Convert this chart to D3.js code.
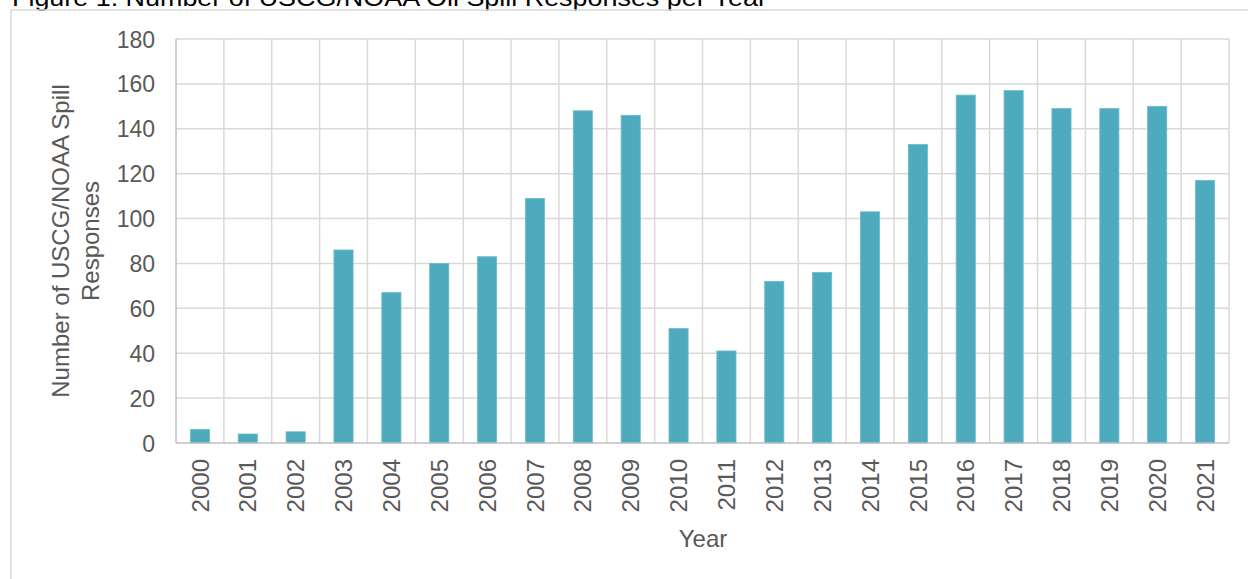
<!DOCTYPE html>
<html><head><meta charset="utf-8">
<script src="https://cdn.jsdelivr.net/npm/d3@7"></script>
<style>body{margin:0;background:#fff}svg{display:block}text{font-family:"Liberation Sans",Arial,sans-serif}</style>
</head><body>
<svg id="c" width="1248" height="579"></svg>
<script>
const years = ["2000","2001","2002","2003","2004","2005","2006","2007","2008","2009","2010","2011","2012","2013","2014","2015","2016","2017","2018","2019","2020","2021"];
const responses = [6,4,5,86,67,80,83,109,148,146,51,41,72,76,103,133,155,157,149,149,150,117];
const yTicks = [0,20,40,60,80,100,120,140,160,180];
const titleText = "Figure 1. Number of USCG/NOAA Oil Spill Responses per Year";
const yTitleLines = ["Number of USCG/NOAA Spill","Responses"];
const xTitle = "Year";

const svg = d3.select("#c");
const m = {left:176, right:1229, top:39, bottom:443};
const x = d3.scaleBand().domain(years).range([m.left, m.right]).paddingInner(0.6).paddingOuter(0.3);
const xg = d3.scaleBand().domain(years).range([m.left, m.right]);
const y = d3.scaleLinear().domain([0,180]).range([m.bottom, m.top]);
const grid = "#d9d9d9", txt = "#595959";

// title (cut at top, as in the reference)
svg.append("text").attr("x",12).attr("y",6).attr("font-size",24).attr("fill","#000")
  .attr("textLength",755).attr("lengthAdjust","spacingAndGlyphs").text(titleText);
// chart border
svg.append("rect").attr("x",11).attr("y",10).attr("width",1260).attr("height",600)
  .attr("fill","none").attr("stroke",grid).attr("stroke-width",1.5);

// horizontal gridlines
svg.append("g").selectAll("line").data(yTicks.filter(d=>d>0)).join("line")
  .attr("x1",m.left).attr("x2",m.right).attr("y1",d=>y(d)).attr("y2",d=>y(d))
  .attr("stroke",grid).attr("stroke-width",1.5);
// vertical gridlines at category boundaries
svg.append("g").selectAll("line").data(years.slice(1).concat(["end"])).join("line")
  .attr("x1",(d,i)=> i<years.length-1 ? xg(d) : m.right)
  .attr("x2",(d,i)=> i<years.length-1 ? xg(d) : m.right)
  .attr("y1",m.top).attr("y2",m.bottom).attr("stroke",grid).attr("stroke-width",1.5);

// bars
svg.append("g").selectAll("rect").data(years).join("rect")
  .attr("x",d=>x(d)).attr("width",x.bandwidth())
  .attr("y",(d,i)=>y(responses[i])).attr("height",(d,i)=>y(0)-y(responses[i]))
  .attr("fill","#4eabbd").attr("stroke","#6bbccb").attr("stroke-width",0.8);

// axes lines
svg.append("line").attr("x1",m.left).attr("x2",m.left).attr("y1",m.top).attr("y2",m.bottom)
  .attr("stroke","#bfbfbf").attr("stroke-width",1.5);
svg.append("line").attr("x1",m.left).attr("x2",m.right).attr("y1",m.bottom).attr("y2",m.bottom)
  .attr("stroke","#bfbfbf").attr("stroke-width",1.5);

// y axis labels
const yAxis = d3.axisLeft(y).tickValues(yTicks).tickSize(0).tickPadding(0);
const ya = svg.append("g").attr("transform",`translate(${m.left-21},0)`).call(yAxis);
ya.select(".domain").remove();
ya.selectAll("text").attr("font-size",23).attr("fill",txt).attr("font-family","Liberation Sans, Arial, sans-serif").attr("dy","0.35em");

// x axis labels
const xAxis = d3.axisBottom(xg).tickSize(0).tickPadding(0);
const xa = svg.append("g").attr("transform",`translate(0,${m.bottom})`).call(xAxis);
xa.select(".domain").remove();
xa.selectAll("text").attr("font-size",24).attr("fill",txt).attr("font-family","Liberation Sans, Arial, sans-serif")
  .attr("text-anchor","end").attr("transform","rotate(-90)").attr("x",-16).attr("y",0).attr("dy","0.36em");

// axis titles
svg.append("text").attr("x",703).attr("y",547).attr("text-anchor","middle").attr("font-size",24).attr("fill",txt).text(xTitle);
const yt = svg.append("text").attr("transform","translate(69,241) rotate(-90)").attr("text-anchor","middle").attr("font-size",24).attr("fill",txt);
yTitleLines.forEach((l,i)=> yt.append("tspan").attr("x",0).attr("dy",i===0?0:"1.25em").text(l));
</script>
</body></html>
